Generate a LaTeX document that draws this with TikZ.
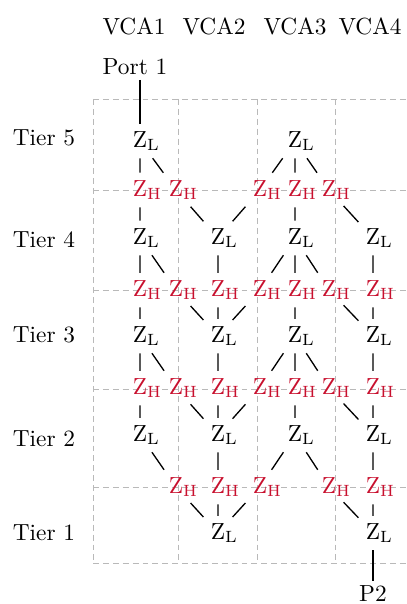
\documentclass[tikz,border=0pt]{standalone}
\usepackage{xcolor}
\usepackage{tikz}
\usetikzlibrary{positioning}
\definecolor{zRed}{RGB}{200,16,46}
\definecolor{gridGray}{RGB}{185,185,185}
\newcommand{\ZL}{Z\rlap{\textsubscript{L}}}
\newcommand{\ZH}{Z\rlap{\textsubscript{H}}}

\begin{document}
\begin{tikzpicture}[
    x=0.4545pt, y=-0.4545pt,
    node distance=14pt,
    every node/.style={font=\fontsize{10.6}{12.7}\selectfont},
    zLow/.style={inner sep=3.2pt},
    zHigh/.style={inner sep=3.2pt, text=zRed},
    heading/.style={inner sep=2pt},
    gridLine/.style={draw=gridGray, line width=0.45pt, dash pattern=on 2.7pt off 1.8pt},
    link/.style={semithick}
]
    \useasboundingbox (0,0) rectangle (406,604);

    % grid of tiers and VCAs
    \draw[gridLine] (93,99) -- (406,99) (93,190) -- (406,190) (93,290) -- (406,290)
        (93,389) -- (406,389) (93,487) -- (406,487) (93,563) -- (406,563);
    \draw[gridLine] (93,99) -- (93,563) (178,99) -- (178,563)
        (257,99) -- (257,563) (335,99) -- (335,563);

    % headings
    \node[heading] (vca1) at (134,26) {VCA1};
    \node[heading] (vca2) at (214,26) {VCA2};
    \node[heading] (vca3) at (295,26) {VCA3};
    \node[heading] (vca4) at (370,26) {VCA4};
    \node[heading] (tier5) at (44,137.5) {Tier 5};
    \node[heading] (tier4) at (44,239.5) {Tier 4};
    \node[heading] (tier3) at (44,335) {Tier 3};
    \node[heading] (tier2) at (44,439) {Tier 2};
    \node[heading] (tier1) at (44,532.5) {Tier 1};
    \node[heading] (port1) at (135,67) {Port 1};

    % tier 5
    \node[zLow] (zL15) at (140,141) {\ZL};
    \node[zLow] (zL35) at (295,141) {\ZL};
    \node[zHigh] (hA1) at (140,190) {\ZH};
    \node[zHigh] (hA12) at (176,190) {\ZH};
    \node[zHigh] (hA23) at (260,190) {\ZH};
    \node[zHigh] (hA3) at (295,190) {\ZH};
    \node[zHigh] (hA34) at (329,190) {\ZH};

    % tier 4
    \node[zLow] (zL14) at (140,238) {\ZL};
    \node[zLow] (zL24) at (218,238) {\ZL};
    \node[zLow] (zL34) at (295,238) {\ZL};
    \node[zLow] (zL44) at (373,238) {\ZL};
    \node[zHigh] (hB1) at (140,290) {\ZH};
    \node[zHigh] (hB12) at (176,290) {\ZH};
    \node[zHigh] (hB2) at (218,290) {\ZH};
    \node[zHigh] (hB23) at (260,290) {\ZH};
    \node[zHigh] (hB3) at (295,290) {\ZH};
    \node[zHigh] (hB34) at (329,290) {\ZH};
    \node[zHigh] (hB4) at (373,290) {\ZH};

    % tier 3
    \node[zLow] (zL13) at (140,336) {\ZL};
    \node[zLow] (zL23) at (218,336) {\ZL};
    \node[zLow] (zL33) at (295,336) {\ZL};
    \node[zLow] (zL43) at (373,336) {\ZL};
    \node[zHigh] (hC1) at (140,388) {\ZH};
    \node[zHigh] (hC12) at (176,388) {\ZH};
    \node[zHigh] (hC2) at (218,388) {\ZH};
    \node[zHigh] (hC23) at (260,388) {\ZH};
    \node[zHigh] (hC3) at (295,388) {\ZH};
    \node[zHigh] (hC34) at (329,388) {\ZH};
    \node[zHigh] (hC4) at (373,388) {\ZH};

    % tier 2
    \node[zLow] (zL12) at (140,435) {\ZL};
    \node[zLow] (zL22) at (218,435) {\ZL};
    \node[zLow] (zL32) at (295,435) {\ZL};
    \node[zLow] (zL42) at (373,435) {\ZL};
    \node[zHigh] (hD12) at (176,487) {\ZH};
    \node[zHigh] (hD2) at (218,487) {\ZH};
    \node[zHigh] (hD23) at (260,487) {\ZH};
    \node[zHigh] (hD34) at (329,487) {\ZH};
    \node[zHigh] (hD4) at (373,487) {\ZH};

    % tier 1
    \node[zLow] (zL21) at (218,533) {\ZL};
    \node[zLow] (zL41) at (373,533) {\ZL};
    \node[heading, below=of zL41] (p2) {P2};

    % links
    \draw[link] (port1.south -| zL15) -- (zL15);
    \draw[link] (zL15) -- (hA1) (zL15) -- (hA12);
    \draw[link] (zL35) -- (hA23) (zL35) -- (hA3) (zL35) -- (hA34);
    \draw[link] (hA1) -- (zL14) (hA12) -- (zL24) (hA23) -- (zL24) (hA3) -- (zL34) (hA34) -- (zL44);

    \draw[link] (zL14) -- (hB1) (zL14) -- (hB12) (zL24) -- (hB2);
    \draw[link] (zL34) -- (hB23) (zL34) -- (hB3) (zL34) -- (hB34) (zL44) -- (hB4);
    \draw[link] (hB1) -- (zL13) (hB12) -- (zL23) (hB2) -- (zL23) (hB23) -- (zL23);
    \draw[link] (hB3) -- (zL33) (hB34) -- (zL43) (hB4) -- (zL43);

    \draw[link] (zL13) -- (hC1) (zL13) -- (hC12) (zL23) -- (hC2);
    \draw[link] (zL33) -- (hC23) (zL33) -- (hC3) (zL33) -- (hC34) (zL43) -- (hC4);
    \draw[link] (hC1) -- (zL12) (hC12) -- (zL22) (hC2) -- (zL22) (hC23) -- (zL22);
    \draw[link] (hC3) -- (zL32) (hC34) -- (zL42) (hC4) -- (zL42);

    \draw[link] (zL12) -- (hD12) (zL22) -- (hD2) (zL32) -- (hD23) (zL32) -- (hD34) (zL42) -- (hD4);
    \draw[link] (hD12) -- (zL21) (hD2) -- (zL21) (hD23) -- (zL21) (hD34) -- (zL41) (hD4) -- (zL41);
    \draw[link] (zL41) -- (p2);
\end{tikzpicture}
\end{document}
